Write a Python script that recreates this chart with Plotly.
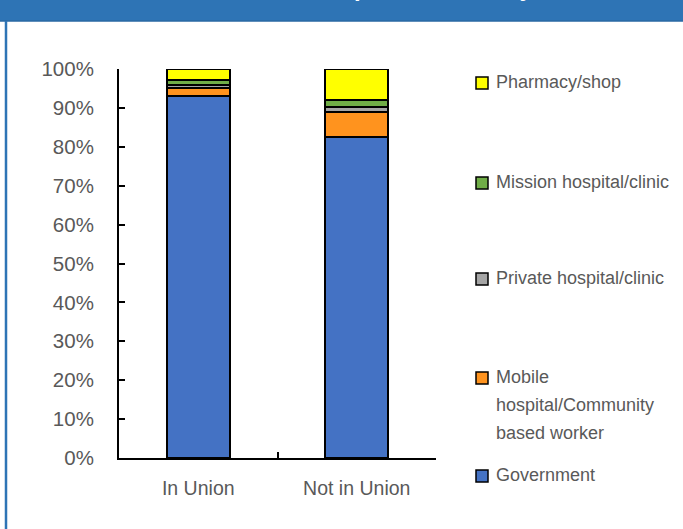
import plotly.graph_objects as go

categories = ["In Union", "Not in Union"]
government = [93.1, 82.4]
mobile = [2.1, 6.5]
private = [0.6, 1.3]
mission = [1.4, 1.8]
pharmacy = [2.8, 8.0]

series_names = ["Government", "Mobile hospital/Community based worker",
                "Private hospital/clinic", "Mission hospital/clinic", "Pharmacy/shop"]
series_values = [government, mobile, private, mission, pharmacy]
colors = ["#4472C4", "#FF931E", "#A5A5A5", "#70AD47", "#FFFF00"]
legend_lines = [["Government"], ["Mobile", "hospital/Community", "based worker"],
                ["Private hospital/clinic"], ["Mission hospital/clinic"], ["Pharmacy/shop"]]
y_ticks = [0, 10, 20, 30, 40, 50, 60, 70, 80, 90, 100]
title_text = "Contraceptive Source by Union Status"

W, H = 683, 529
L, R, T, B = 119, 247, 69, 71
PW, PH = W - L - R, H - T - B

def px(x):
    return (x - L) / PW

def py(y):
    return (H - B - y) / PH

FONT = "Liberation Sans, Arial, sans-serif"
GRAY = "#595959"

fig = go.Figure()
for name, vals, col in zip(series_names, series_values, colors):
    fig.add_trace(go.Bar(x=categories, y=vals, name=name,
                         marker=dict(color=col, line=dict(color="black", width=2)),
                         showlegend=False))

# manual legend
legend_y = [475, 377, 278, 182, 82]
shapes = []
annotations = []
for lines, col, yc in zip(legend_lines, colors, legend_y):
    shapes.append(dict(type="rect", xref="paper", yref="paper",
                       x0=px(476), x1=px(488), y0=py(yc + 7), y1=py(yc - 5),
                       fillcolor=col, line=dict(color="black", width=1.5)))
    for i, line in enumerate(lines):
        annotations.append(dict(text=line, xref="paper", yref="paper",
                                x=px(494), y=py(yc + 28 * i), xanchor="left",
                                yanchor="middle", showarrow=False,
                                font=dict(family=FONT, size=18, color=GRAY)))

# header band and left border
shapes.append(dict(type="rect", xref="paper", yref="paper", x0=px(-5), x1=px(W + 5),
                   y0=py(21), y1=py(-5), fillcolor="#2E74B5", line=dict(width=0),
                   layer="above"))
shapes.append(dict(type="line", xref="paper", yref="paper", x0=px(0), x1=px(W + 5),
                   y0=py(21), y1=py(21), line=dict(color="#2A69A3", width=1.5),
                   layer="above"))
shapes.append(dict(type="line", xref="paper", yref="paper", x0=px(6), x1=px(6),
                   y0=py(21), y1=py(H + 5), line=dict(color="#2E74B5", width=2.5),
                   layer="above"))
annotations.append(dict(text="<b>" + title_text + "</b>", xref="paper", yref="paper",
                        x=px(248), y=py(3), xanchor="left", yanchor="bottom",
                        showarrow=False,
                        font=dict(family=FONT, size=24, color="white")))

fig.update_layout(
    barmode="stack",
    bargap=0.6,
    width=W, height=H,
    margin=dict(l=L, r=R, t=T, b=B, autoexpand=False),
    paper_bgcolor="white",
    plot_bgcolor="white",
    showlegend=False,
    shapes=shapes,
    annotations=annotations,
    font=dict(family=FONT, color=GRAY),
    xaxis=dict(type="category", tickson="boundaries", ticks="inside", ticklen=6,
               tickwidth=2, tickcolor="black", showline=True, linecolor="black",
               linewidth=2, showgrid=False, tickfont=dict(size=19.5, color=GRAY),
               range=[-0.5, 1.5], ticklabelstandoff=12),
    yaxis=dict(range=[0, 100], tickvals=y_ticks,
               ticktext=[f"{v}%" for v in y_ticks], ticks="inside", ticklen=6,
               tickwidth=2, tickcolor="black", showline=True, linecolor="black",
               linewidth=2, showgrid=False, zeroline=False,
               tickfont=dict(size=20.5, color=GRAY), ticklabelstandoff=19),
)

fig.write_html("out.html",
               config={"displayModeBar": False},
               post_script="document.body.style.margin='0';"
                           "document.body.style.overflow='hidden';")
